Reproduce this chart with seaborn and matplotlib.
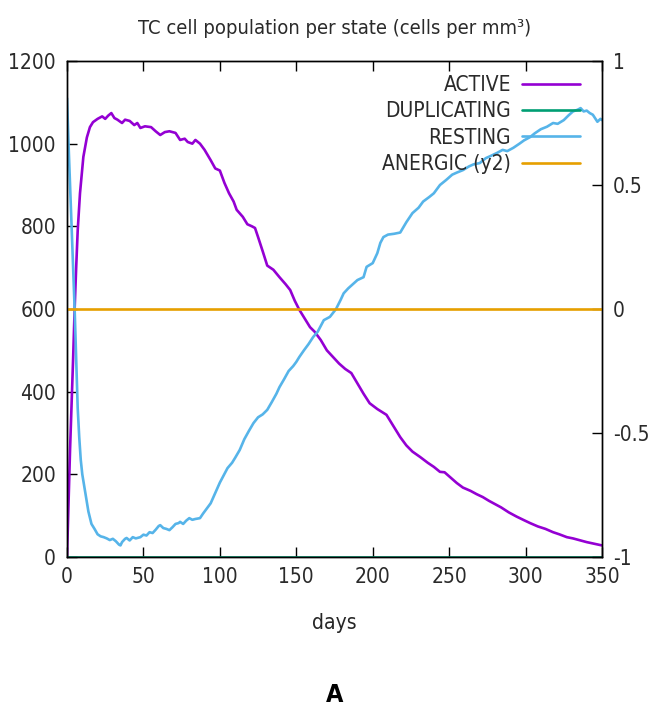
import matplotlib
matplotlib.use("Agg")
import matplotlib.pyplot as plt
from matplotlib import font_manager as fm
import seaborn as sns

# --- data -------------------------------------------------------------
active_days = [0, 2, 4, 5, 6, 7, 8.5, 10.7, 13, 15, 17, 20, 23, 25, 27, 29, 31, 33, 36, 38,
               41, 44, 46, 48, 51, 55, 58, 61, 64, 67, 71, 74, 77, 79, 82, 84, 87, 90, 94, 97,
               100, 103, 106, 109, 111, 115, 118, 121, 123, 125, 128, 131, 135, 139, 143, 146,
               149, 152, 155, 159, 162, 166, 170, 174, 178, 182, 186, 190, 194, 198, 203, 209,
               213, 218, 222, 226, 231, 236, 240, 244, 247, 251, 255, 259, 264, 268, 272, 276,
               279, 284, 289, 294, 299, 303, 308, 313, 318, 322, 327, 331, 336, 340, 345, 350]
active_vals = [0, 260, 480, 600, 700, 790, 880, 968, 1015, 1040, 1052, 1060, 1066, 1060, 1068,
               1074, 1062, 1058, 1050, 1058, 1055, 1045, 1050, 1038, 1042, 1040, 1030, 1021, 1028,
               1030, 1026, 1009, 1012, 1004, 1000, 1009, 1000, 985, 960, 940, 935, 905, 880, 860,
               840, 823, 805, 800, 796, 774, 740, 705, 695, 677, 660, 646, 620, 598, 580, 556,
               545, 525, 500, 484, 468, 455, 445, 420, 395, 372, 358, 344, 320, 290, 270, 255,
               242, 228, 218, 206, 205, 192, 179, 168, 160, 152, 145, 136, 130, 120, 108, 98, 89,
               82, 74, 68, 60, 55, 48, 45, 40, 36, 32, 28]

resting_days = [0, 1, 2, 3, 4, 5, 6, 6.5, 7, 8, 9, 10, 12, 14, 16, 18, 20, 22, 24, 26, 28, 30,
                32, 34, 35, 36, 38, 39, 41, 43, 45, 48, 50, 52, 54, 56, 58, 60, 61, 63, 65, 67,
                69, 71, 73, 74, 76, 78, 80, 82, 84, 87, 89, 91, 94, 97, 100, 102, 105, 108, 110,
                113, 116, 119, 122, 125, 128, 131, 134, 137, 139, 142, 145, 148, 150, 152, 155,
                158, 161, 164, 168, 172, 176, 179, 181, 184, 187, 190, 194, 196, 200, 203, 205,
                207, 210, 214, 218, 222, 226, 230, 233, 237, 240, 244, 248, 252, 255, 259, 263,
                266, 270, 274, 277, 281, 285, 288, 292, 296, 299, 303, 306, 310, 314, 318, 321,
                325, 328, 331, 334, 336, 338, 340, 342, 344, 347, 349, 350]
resting_vals = [1110, 1000, 900, 800, 700, 600, 480, 420, 360, 290, 235, 200, 155, 110, 80, 68,
                55, 50, 48, 45, 41, 44, 38, 30, 28, 36, 44, 46, 40, 48, 45, 48, 54, 52, 60, 58,
                66, 75, 77, 70, 68, 65, 72, 80, 82, 85, 80, 88, 94, 90, 92, 94, 105, 115, 130,
                155, 180, 194, 215, 228, 240, 259, 285, 305, 324, 338, 345, 356, 375, 395, 411,
                430, 450, 462, 472, 484, 500, 515, 532, 545, 573, 581, 600, 622, 638, 650, 660,
                670, 677, 702, 711, 735, 760, 774, 780, 782, 785, 810, 832, 845, 860, 871, 880,
                900, 912, 925, 930, 936, 945, 950, 953, 965, 970, 977, 985, 982, 990, 1000, 1008,
                1016, 1025, 1035, 1041, 1050, 1048, 1057, 1068, 1078, 1082, 1086, 1078, 1080,
                1074, 1070, 1053, 1060, 1057]

duplicating_days = [0, 350]
duplicating_vals = [0, 0]

anergic_days = [0, 350]
anergic_vals = [0, 0]

x_ticks = [0, 50, 100, 150, 200, 250, 300, 350]
y_ticks = [0, 200, 400, 600, 800, 1000, 1200]
y2_ticks = [-1, -0.5, 0, 0.5, 1]
y2_labels = ["-1", "-0.5", "0", "0.5", "1"]

# --- style ------------------------------------------------------------
sns.set_style("white")
names = {f.name for f in fm.fontManager.ttflist}
if "Liberation Sans Narrow" in names:
    plt.rcParams["font.family"] = ["Liberation Sans Narrow", "DejaVu Sans"]
else:
    plt.rcParams["font.family"] = ["DejaVu Sans"]
    plt.rcParams["font.stretch"] = "condensed"
FS = 15
plt.rcParams.update({
    "font.size": FS,
    "axes.edgecolor": "black",
    "axes.linewidth": 1.0,
    "xtick.direction": "in",
    "ytick.direction": "in",
    "xtick.major.size": 7,
    "ytick.major.size": 7,
    "xtick.color": "black",
    "ytick.color": "black",
    "xtick.labelcolor": "#2a2a2a",
    "ytick.labelcolor": "#2a2a2a",
    "text.color": "#2a2a2a",
})

C_ACTIVE = "#9400D3"
C_DUP = "#009E73"
C_REST = "#56B4E9"
C_ANERG = "#E69F00"
LW = 1.9

fig = plt.figure(figsize=(6.51, 7.11), dpi=100)
ax = fig.add_axes([67 / 651, 1 - 557 / 711, (602 - 67) / 651, (557 - 61) / 711])
ax2 = ax.twinx()

sns.lineplot(x=active_days, y=active_vals, ax=ax, color=C_ACTIVE, lw=LW, label="ACTIVE", legend=False)
sns.lineplot(x=duplicating_days, y=duplicating_vals, ax=ax, color=C_DUP, lw=LW, label="DUPLICATING", legend=False)
sns.lineplot(x=resting_days, y=resting_vals, ax=ax, color=C_REST, lw=LW, label="RESTING", legend=False)
sns.lineplot(x=anergic_days, y=anergic_vals, ax=ax2, color=C_ANERG, lw=LW, label="ANERGIC (y2)", legend=False)

ax.set_xlim(0, 350)
ax.set_ylim(0, 1200)
ax2.set_ylim(-1, 1)
ax.set_xticks(x_ticks)
ax.set_yticks(y_ticks)
ax2.set_yticks(y2_ticks)
ax2.set_yticklabels(y2_labels)
ax.tick_params(axis="x", top=True, bottom=True, labelsize=FS, pad=7, width=1)
ax.tick_params(axis="y", left=True, right=False, labelsize=FS, pad=8, width=1)
ax2.tick_params(axis="y", right=True, left=False, labelsize=FS, pad=8, width=1)
for a in (ax, ax2):
    for s in a.spines.values():
        s.set_visible(True)
        s.set_color("black")

ax.set_xlabel("days", fontsize=FS, labelpad=19)
ax.set_ylabel("")
ax2.set_ylabel("")
fig.text(0.514, 0.960, "TC cell population per state (cells per mm³)", ha="center", va="center",
         fontsize=FS - 0.5)
fig.text(0.514, 0.022, "A", ha="center", va="center", fontsize=FS + 3, fontweight="bold", color="black")

h1, l1 = ax.get_legend_handles_labels()
h2, l2 = ax2.get_legend_handles_labels()
ax2.legend(h1 + h2, l1 + l2, loc="upper right", frameon=False, markerfirst=False,
           fontsize=FS, handlelength=2.8, handletextpad=0.5, labelspacing=0.3,
           borderaxespad=0.4, bbox_to_anchor=(0.99, 1.005))

fig.savefig("out.png", dpi=100)
